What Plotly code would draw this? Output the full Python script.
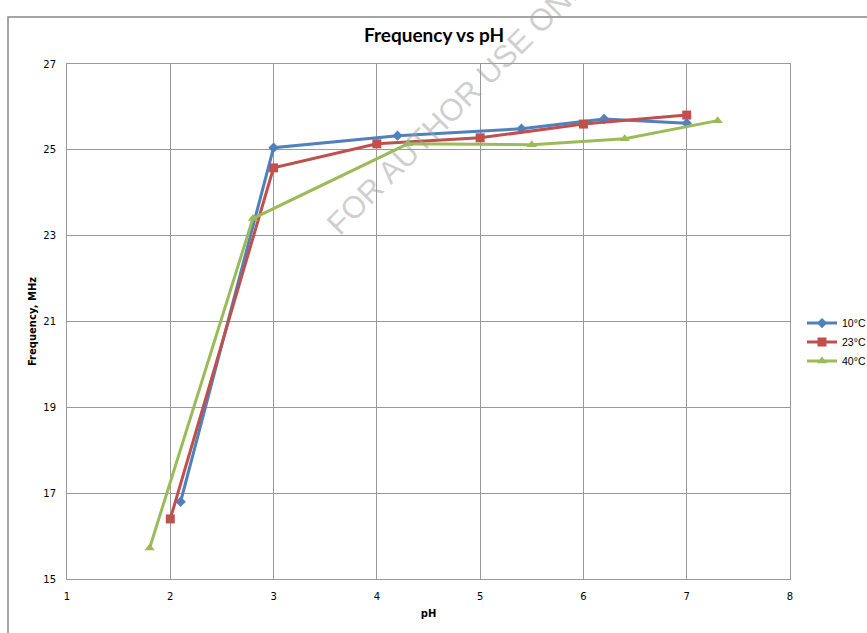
import plotly.graph_objects as go

ph_10 = [2.1, 3.0, 4.2, 5.4, 6.2, 7.0]
freq_10 = [16.8, 25.05, 25.33, 25.49, 25.72, 25.62]
ph_23 = [2.0, 3.0, 4.0, 5.0, 6.0, 7.0]
freq_23 = [16.4, 24.58, 25.14, 25.28, 25.6, 25.81]
ph_40 = [1.8, 2.8, 4.3, 5.5, 6.4, 7.3]
freq_40 = [15.72, 23.4, 25.14, 25.12, 25.26, 25.68]
series_names = ["10°C", "23°C", "40°C"]
x_ticks = [1, 2, 3, 4, 5, 6, 7, 8]
y_ticks = [15, 17, 19, 21, 23, 25, 27]

colors = ["#4F81BD", "#C0504D", "#9BBB59"]
symbols = ["diamond", "square", "triangle-up"]
sizes = [8, 9, 9]

fig = go.Figure()
for xs, ys, name, c, s, sz in zip([ph_10, ph_23, ph_40], [freq_10, freq_23, freq_40],
                                  series_names, colors, symbols, sizes):
    fig.add_trace(go.Scatter(x=xs, y=ys, name=name, mode="lines+markers",
                             line=dict(color=c, width=3),
                             marker=dict(color=c, symbol=s, size=sz)))

axis_common = dict(showgrid=True, gridcolor="#999999", gridwidth=1,
                   showline=True, linecolor="#999999", linewidth=1, mirror=True,
                   zeroline=False, ticks="", tickfont=dict(family="DejaVu Sans", size=10, color="#000"),
                   ticklabelstandoff=8, automargin=False)

fig.update_layout(
    width=867, height=633,
    margin=dict(l=67, r=77, t=64, b=54, autoexpand=False),
    paper_bgcolor="white", plot_bgcolor="white",
    title=dict(text="<b>Frequency vs pH</b>", x=434 / 867, xanchor="center", y=1 - 35 / 633, yanchor="middle",
               font=dict(family="Lato", size=19, color="#000")),
    xaxis=dict(range=[1, 8], tickvals=x_ticks, **axis_common,
               title=dict(text="<b>pH</b>", font=dict(family="DejaVu Sans", size=10, color="#000"), standoff=8)),
    yaxis=dict(range=[15, 27], tickvals=y_ticks, **axis_common,
               title=dict(text="<b>Frequency, MHz</b>", font=dict(family="DejaVu Sans", size=10, color="#000"), standoff=4)),
    legend=dict(xref="container", x=802 / 867, xanchor="left", y=0.46, yanchor="middle",
                font=dict(family="Liberation Sans", size=10.5, color="#000"),
                tracegroupgap=4, itemwidth=30, bgcolor="rgba(0,0,0,0)"),
    showlegend=True,
)

fig.add_shape(type="rect", xref="paper", yref="paper", x0=(8 - 67) / 723, x1=1.2, y0=-0.2, y1=(579 - 17) / 515,
              line=dict(color="#888888", width=1.5), fillcolor="rgba(0,0,0,0)", layer="below")

fig.add_annotation(text="FOR AUTHOR USE ONLY", xref="paper", yref="paper",
                   x=(462 - 67) / 723, y=(579 - 100) / 515, xanchor="center", yanchor="middle",
                   showarrow=False, textangle=-45,
                   font=dict(family="Liberation Sans", size=31, color="rgba(160,160,160,0.5)"))

fig.write_html("out.html")
